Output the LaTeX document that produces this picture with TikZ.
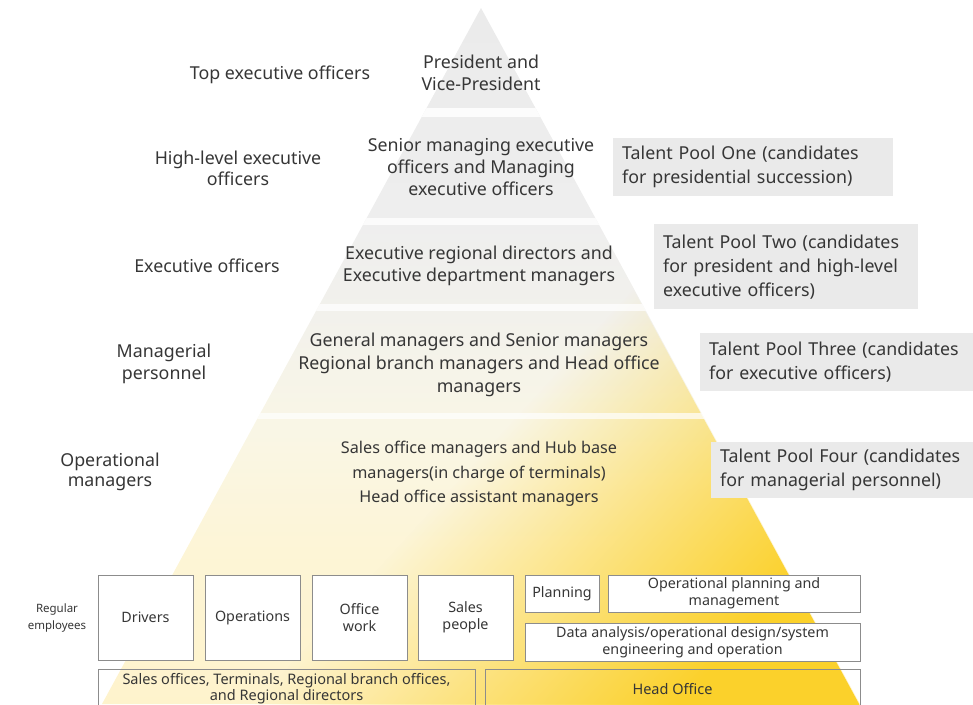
\documentclass[tikz,border=0pt]{standalone}
\usepackage{fontspec}
\setmainfont{Noto Sans}
\usetikzlibrary{fadings}
\definecolor{txt}{HTML}{363636}
\definecolor{boxline}{HTML}{8C8C8C}
\definecolor{poolfill}{HTML}{EAEAEA}
\definecolor{gA}{HTML}{EBEBEB}
\definecolor{gB}{HTML}{EEEEEE}
\definecolor{gC}{HTML}{F2F1EC}
\definecolor{cA}{HTML}{F9F6E6}
\definecolor{yA}{HTML}{FDF5D6}
\definecolor{yB}{HTML}{FEF3CC}
\definecolor{yStrong}{HTML}{FBD12B}
\pgfdeclareverticalshading{pyr}{100bp}{color(0bp)=(yB); color(25bp)=(yB); color(36bp)=(yA); color(45bp)=(cA); color(53bp)=(gC); color(60bp)=(gB); color(75bp)=(gA); color(100bp)=(gA)}
\pgfdeclareverticalshading{yfsh}{100bp}{color(0bp)=(white); color(24bp)=(white); color(45.5bp)=(black); color(100bp)=(black)}
\pgfdeclarefading{yf}{\pgfuseshading{yfsh}}
\begin{document}
\begin{tikzpicture}[x=1pt,y=-1pt,
  every node/.style={text=txt, font=\fontsize{17.8}{22}\selectfont},
  lvl/.style={align=center, inner sep=0pt},
  side/.style={align=center, inner sep=0pt},
  jobbox/.style={draw=boxline, line width=0.9pt, fill=white, align=center, inner sep=0pt, font=\fontsize{14.3}{17}\selectfont},
  basebox/.style={draw=boxline, line width=0.9pt, align=center, inner sep=0pt, font=\fontsize{14.5}{16}\selectfont},
  pool/.style={fill=poolfill, anchor=north west, align=left, inner xsep=9pt, inner ysep=0pt, font=\fontsize{17.8}{24}\selectfont}
]
\useasboundingbox (0,0) rectangle (973,704);
% pyramid
\coordinate (apex) at (481,8);
\coordinate (bl) at (102,704);
\coordinate (br) at (860,704);
\shade[shading=pyr] (apex) -- (br) -- (bl) -- cycle;
\fill[yStrong, path fading=yf, fading angle=50] (apex) -- (br) -- (bl) -- cycle;
\begin{scope}
  \clip (apex) -- (br) -- (bl) -- cycle;
  \fill[white, opacity=0.85] (0,108) rectangle (973,117);
  \fill[white, opacity=0.8] (0,218) rectangle (973,225);
  \fill[white, opacity=0.75] (0,304) rectangle (973,311);
  \fill[white, opacity=0.7] (0,413) rectangle (973,419);
\end{scope}

% level texts
\node[lvl] (l1) at (481,73) {President and\\Vice-President};
\node[lvl] (l2) at (481,167) {Senior managing executive\\officers and Managing\\executive officers};
\node[lvl] (l3) at (479,266) {Executive regional directors and\\Executive department managers};
\node[lvl, font=\fontsize{17.8}{23}\selectfont] (l4) at (479,365) {General managers and Senior managers\\Regional branch managers and Head office\\managers};
\node[lvl, font=\fontsize{16.2}{24.5}\selectfont] (l5) at (479,474) {Sales office managers and Hub base\\managers(in charge of terminals)\\Head office assistant managers};

% side labels
\node[side] (s1) at (280,75) {Top executive officers};
\node[side, font=\fontsize{17.8}{21}\selectfont] (s2) at (238,168) {High-level executive\\officers};
\node[side] (s3) at (207,266) {Executive officers};
\node[side] (s4) at (164,364) {Managerial\\personnel};
\node[side, font=\fontsize{17.8}{20}\selectfont] (s5) at (110,472) {Operational\\managers};
\node[side, font=\fontsize{11.5}{17}\selectfont] (s6) at (57,618) {Regular\\employees};

% talent pools
\node[pool, text width=262pt, minimum height=58pt] (tp1) at (613,138) {Talent Pool One (candidates\\for presidential succession)};
\node[pool, text width=246pt, minimum height=85pt] (tp2) at (654,224) {Talent Pool Two (candidates\\for president and high-level\\executive officers)};
\node[pool, text width=255pt, minimum height=58pt] (tp3) at (700,333) {Talent Pool Three (candidates\\for executive officers)};
\node[pool, text width=244pt, minimum height=56pt] (tp4) at (711,442) {Talent Pool Four (candidates\\for managerial personnel)};

% job boxes
\node[jobbox, minimum width=95pt, minimum height=85pt] (drv) at (145.5,617.5) {Drivers};
\node[jobbox, minimum width=95pt, minimum height=85pt] (ops) at (252.5,617.5) {Operations};
\node[jobbox, minimum width=95pt, minimum height=85pt] (off) at (359.5,617.5) {Office\\work};
\node[jobbox, minimum width=95pt, minimum height=85pt] (sal) at (465.5,617.5) {Sales\\people};
\node[jobbox, minimum width=74pt, minimum height=37pt] (pln) at (562,593.5) {Planning};
\node[jobbox, minimum width=252pt, minimum height=37pt] (opm) at (734,593.5) {Operational planning and\\management};
\node[jobbox, minimum width=335pt, minimum height=38pt] (dat) at (692.5,642) {Data analysis/operational design/system\\engineering and operation};

% base boxes
\node[basebox, minimum width=377pt, minimum height=40pt] (slo) at (286.5,689) {Sales offices, Terminals, Regional branch offices,\\and Regional directors};
\node[basebox, minimum width=375pt, minimum height=40pt] (hdo) at (672.5,689) {Head Office};
\end{tikzpicture}
\end{document}
